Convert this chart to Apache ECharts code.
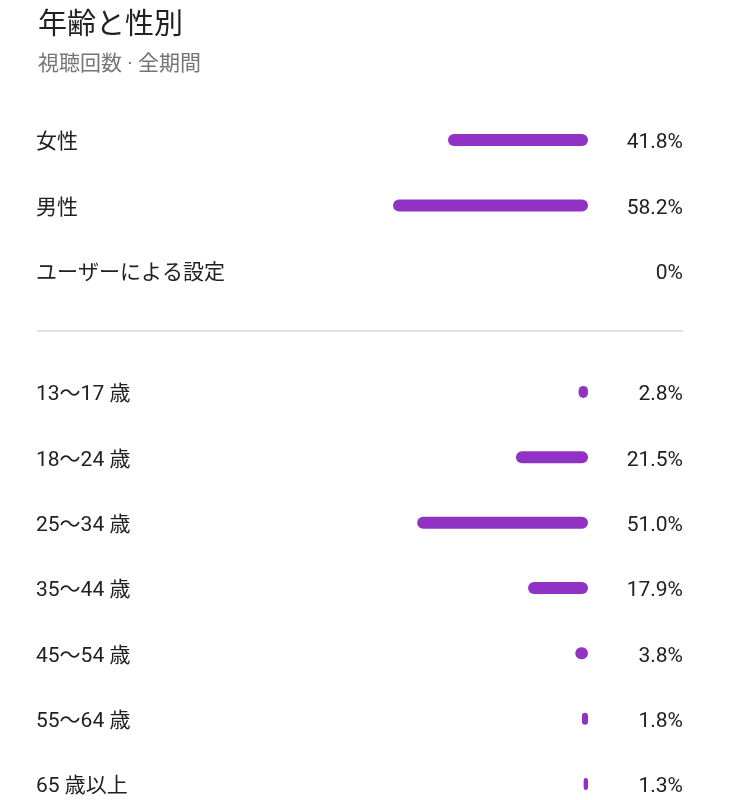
<!DOCTYPE html>
<html>
<head>
<meta charset="utf-8">
<script src="https://cdn.jsdelivr.net/npm/echarts@6/dist/echarts.min.js"></script>
<style>html,body{margin:0;padding:0;background:#fff}#c{width:749px;height:800px}</style>
</head>
<body>
<div id="c"></div>
<script>
const titleText = '年齢と性別';
const subtitleText = '視聴回数 · 全期間';
const genderCategories = ['女性', '男性', 'ユーザーによる設定'];
const genderValues = [41.8, 58.2, 0];
const ageCategories = ['13〜17 歳', '18〜24 歳', '25〜34 歳', '35〜44 歳', '45〜54 歳', '55〜64 歳', '65 歳以上'];
const ageValues = [2.8, 21.5, 51.0, 17.9, 3.8, 1.8, 1.3];

const FONT = "Roboto, 'Noto Sans CJK JP', sans-serif";
const BAR = '#9032c3';
const fmt = v => v === 0 ? '0%' : v.toFixed(1) + '%';

const chart = echarts.init(document.getElementById('c'), null, {renderer: 'canvas'});

function xAx(i) {
  return {gridIndex: i, type: 'value', min: 0, max: 100, inverse: true, show: false};
}
function yAxes(i, cats, vals) {
  const lbl = {fontSize: 21, color: '#212121', fontFamily: FONT, verticalAlign: 'top', lineHeight: 6};
  return [
    {gridIndex: i, type: 'category', data: cats, inverse: true, position: 'left',
     axisLine: {show: false, onZero: false}, axisTick: {show: false}, splitLine: {show: false},
     axisLabel: Object.assign({align: 'left', margin: 217}, lbl)},
    {gridIndex: i, type: 'category', data: vals.map(fmt), inverse: true, position: 'right',
     axisLine: {show: false, onZero: false}, axisTick: {show: false}, splitLine: {show: false},
     axisLabel: Object.assign({align: 'right', margin: 95}, lbl)}
  ];
}

chart.setOption({
  animation: false,
  backgroundColor: '#ffffff',
  title: {
    text: titleText, subtext: subtitleText, left: 33, top: 7, itemGap: 13,
    textStyle: {fontSize: 29, fontWeight: 'normal', color: '#212121', fontFamily: FONT},
    subtextStyle: {fontSize: 21, color: '#757575', fontFamily: FONT}
  },
  grid: [
    {left: 253, width: 335, top: 107.25, height: 196.5, outerBoundsMode: 'none', containLabel: false},
    {left: 253, width: 335, top: 359.33, height: 457.33, outerBoundsMode: 'none', containLabel: false}
  ],
  xAxis: [xAx(0), xAx(1)],
  yAxis: [...yAxes(0, genderCategories, genderValues), ...yAxes(1, ageCategories, ageValues)],
  graphic: [{
    type: 'line', shape: {x1: 37, y1: 331, x2: 683, y2: 331},
    style: {stroke: '#e3e3e3', lineWidth: 2}
  }],
  series: [
    {type: 'bar', xAxisIndex: 0, yAxisIndex: 0, data: genderValues, barWidth: 12,
     itemStyle: {color: BAR, borderRadius: 6}},
    {type: 'bar', xAxisIndex: 1, yAxisIndex: 2, data: ageValues, barWidth: 12,
     itemStyle: {color: BAR, borderRadius: 6}}
  ]
});
</script>
</body>
</html>
